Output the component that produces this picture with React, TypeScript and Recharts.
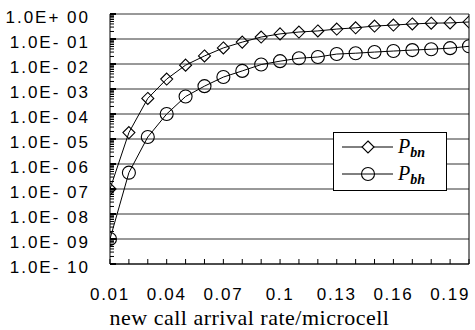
import React from "react";
import {
  LineChart,
  Line,
  XAxis,
  YAxis,
  CartesianGrid,
  ReferenceLine,
  Legend,
} from "recharts";

const xValues = [
  0.01, 0.02, 0.03, 0.04, 0.05, 0.06, 0.07, 0.08, 0.09, 0.1, 0.11, 0.12, 0.13,
  0.14, 0.15, 0.16, 0.17, 0.18, 0.19, 0.2,
];
const pbn = [
  1e-7, 1.8e-5, 4.2e-4, 2.5e-3, 9e-3, 2.1e-2, 4.4e-2, 7.5e-2, 0.12, 0.16, 0.19,
  0.21, 0.25, 0.28, 0.33, 0.36, 0.4, 0.43, 0.44, 0.48,
];
const pbh = [
  1e-9, 4.5e-7, 1.2e-5, 1.0e-4, 5e-4, 1.3e-3, 3e-3, 5.3e-3, 9.5e-3, 1.3e-2,
  1.7e-2, 1.9e-2, 2.5e-2, 2.7e-2, 3.0e-2, 3.3e-2, 3.6e-2, 3.9e-2, 4.3e-2,
  5.1e-2,
];

const xTicks = [0.01, 0.04, 0.07, 0.1, 0.13, 0.16, 0.19];
const xTickLabels = ["0.01", "0.04", "0.07", "0.1", "0.13", "0.16", "0.19"];
const yTicks = [1, 1e-1, 1e-2, 1e-3, 1e-4, 1e-5, 1e-6, 1e-7, 1e-8, 1e-9, 1e-10];
const yTickLabels = [
  "1.0E+ 00",
  "1.0E- 01",
  "1.0E- 02",
  "1.0E- 03",
  "1.0E- 04",
  "1.0E- 05",
  "1.0E- 06",
  "1.0E- 07",
  "1.0E- 08",
  "1.0E- 09",
  "1.0E- 10",
];
const minorMantissas = [2, 3, 4, 5, 6, 7, 8, 9];
const yAllTicks = [
  ...yTicks,
  ...yTicks.slice(1).flatMap((d) => minorMantissas.map((m) => m * d)),
];

const data = xValues.map((x, i) => ({ x, pbn: pbn[i], pbh: pbh[i] }));

const sans = "'Liberation Sans', Arial, sans-serif";
const serif = "'Liberation Serif', 'Times New Roman', serif";

const X_GAP = 26;
const Y_GAP = 20;

function XTick(props: any) {
  const { x, y, payload } = props;
  const i = xTicks.indexOf(payload.value);
  const axisY = y - X_GAP;
  return (
    <g>
      <line x1={x} x2={x} y1={axisY} y2={axisY - 5} stroke="#000" strokeWidth={1} />
      {i >= 0 && (
        <text
          x={x}
          y={y + 10}
          textAnchor="middle"
          fontSize={17}
          fontFamily={sans}
          letterSpacing={1.7}
          fill="#000"
        >
          {xTickLabels[i]}
        </text>
      )}
    </g>
  );
}

function YTick(props: any) {
  const { x, y, payload } = props;
  const i = yTicks.indexOf(payload.value);
  const axisX = x + Y_GAP;
  return (
    <g>
      <line
        x1={axisX}
        x2={axisX + (i >= 0 ? 6 : 4)}
        y1={y}
        y2={y}
        stroke="#000"
        strokeWidth={i >= 0 ? 2 : 1}
      />
      {i >= 0 && (
        <text
          x={x}
          y={y + 9}
          textAnchor="end"
          fontSize={17}
          fontFamily={sans}
          letterSpacing={2}
          fill="#000"
        >
          {yTickLabels[i]}
        </text>
      )}
    </g>
  );
}

function Diamond(props: any) {
  const { cx, cy, index } = props;
  if (cx == null || cy == null) return null;
  const s = 6;
  return (
    <path
      key={`d-${index}`}
      d={`M${cx},${cy - s}L${cx + s},${cy}L${cx},${cy + s}L${cx - s},${cy}Z`}
      fill="none"
      stroke="#000"
      strokeWidth={1.1}
    />
  );
}

function Circle(props: any) {
  const { cx, cy, index } = props;
  if (cx == null || cy == null) return null;
  return (
    <circle key={`c-${index}`} cx={cx} cy={cy} r={6.5} fill="none" stroke="#000" strokeWidth={1.1} />
  );
}

const legendItems = [
  { name: "P", sub: "bn", marker: "diamond" },
  { name: "P", sub: "bh", marker: "circle" },
];

function LegendBox() {
  return (
    <div
      style={{
        width: 114,
        height: 59,
        border: "1px solid #000",
        background: "#fff",
        boxSizing: "border-box",
      }}
    >
      <svg width={112} height={57}>
        {legendItems.map((item, i) => {
          const cy = 14 + i * 27;
          return (
            <g key={item.sub}>
              <line x1={8} x2={59} y1={cy} y2={cy} stroke="#000" strokeWidth={1} />
              {item.marker === "diamond" ? (
                <path
                  d={`M34,${cy - 6}L40,${cy}L34,${cy + 6}L28,${cy}Z`}
                  fill="#fff"
                  stroke="#000"
                  strokeWidth={1.1}
                />
              ) : (
                <circle cx={34} cy={cy} r={6.5} fill="none" stroke="#000" strokeWidth={1.1} />
              )}
              <text x={64} y={cy + 6} fontFamily={serif} fontStyle="italic" fontSize={20} fill="#000">
                {item.name}
                <tspan fontSize={14} fontWeight="bold" dy={4}>
                  {item.sub}
                </tspan>
              </text>
            </g>
          );
        })}
      </svg>
    </div>
  );
}

export default function App() {
  return (
    <div style={{ position: "absolute", left: 0, top: 0, background: "#fff" }}>
      <LineChart width={475} height={330} data={data} margin={{ top: 14, right: 6, left: 0, bottom: 0 }}>
        <CartesianGrid vertical={false} horizontalValues={yTicks} stroke="#333" strokeWidth={1} />
        <XAxis
          dataKey="x"
          type="number"
          domain={[0.01, 0.2]}
          ticks={xValues}
          interval={0}
          height={66}
          tickLine={false}
          tickSize={0}
          tickMargin={X_GAP}
          axisLine={{ stroke: "#000" }}
          tick={<XTick />}
          allowDataOverflow
          label={{
            value: "new call arrival rate/microcell",
            position: "insideBottom",
            offset: 5,
            dx: -40,
            style: { fill: "#000", fontSize: 22, fontFamily: serif, letterSpacing: 0.5 },
          }}
        />
        <YAxis
          type="number"
          scale="log"
          domain={[1e-10, 1]}
          ticks={yAllTicks}
          interval={0}
          width={110}
          tickLine={false}
          tickSize={0}
          tickMargin={Y_GAP}
          axisLine={{ stroke: "#000" }}
          tick={<YTick />}
          allowDataOverflow
        />
        <ReferenceLine x={0.2} stroke="#000" strokeWidth={1} />
        <Legend
          layout="horizontal"
          verticalAlign="middle"
          align="center"
          wrapperStyle={{ position: "absolute", left: 333, top: 132, width: 114, height: 59 }}
          content={() => <LegendBox />}
        />
        <Line
          dataKey="pbn"
          type="linear"
          stroke="#000"
          strokeWidth={1}
          dot={Diamond}
          isAnimationActive={false}
        />
        <Line
          dataKey="pbh"
          type="linear"
          stroke="#000"
          strokeWidth={1}
          dot={Circle}
          isAnimationActive={false}
        />
      </LineChart>
    </div>
  );
}
